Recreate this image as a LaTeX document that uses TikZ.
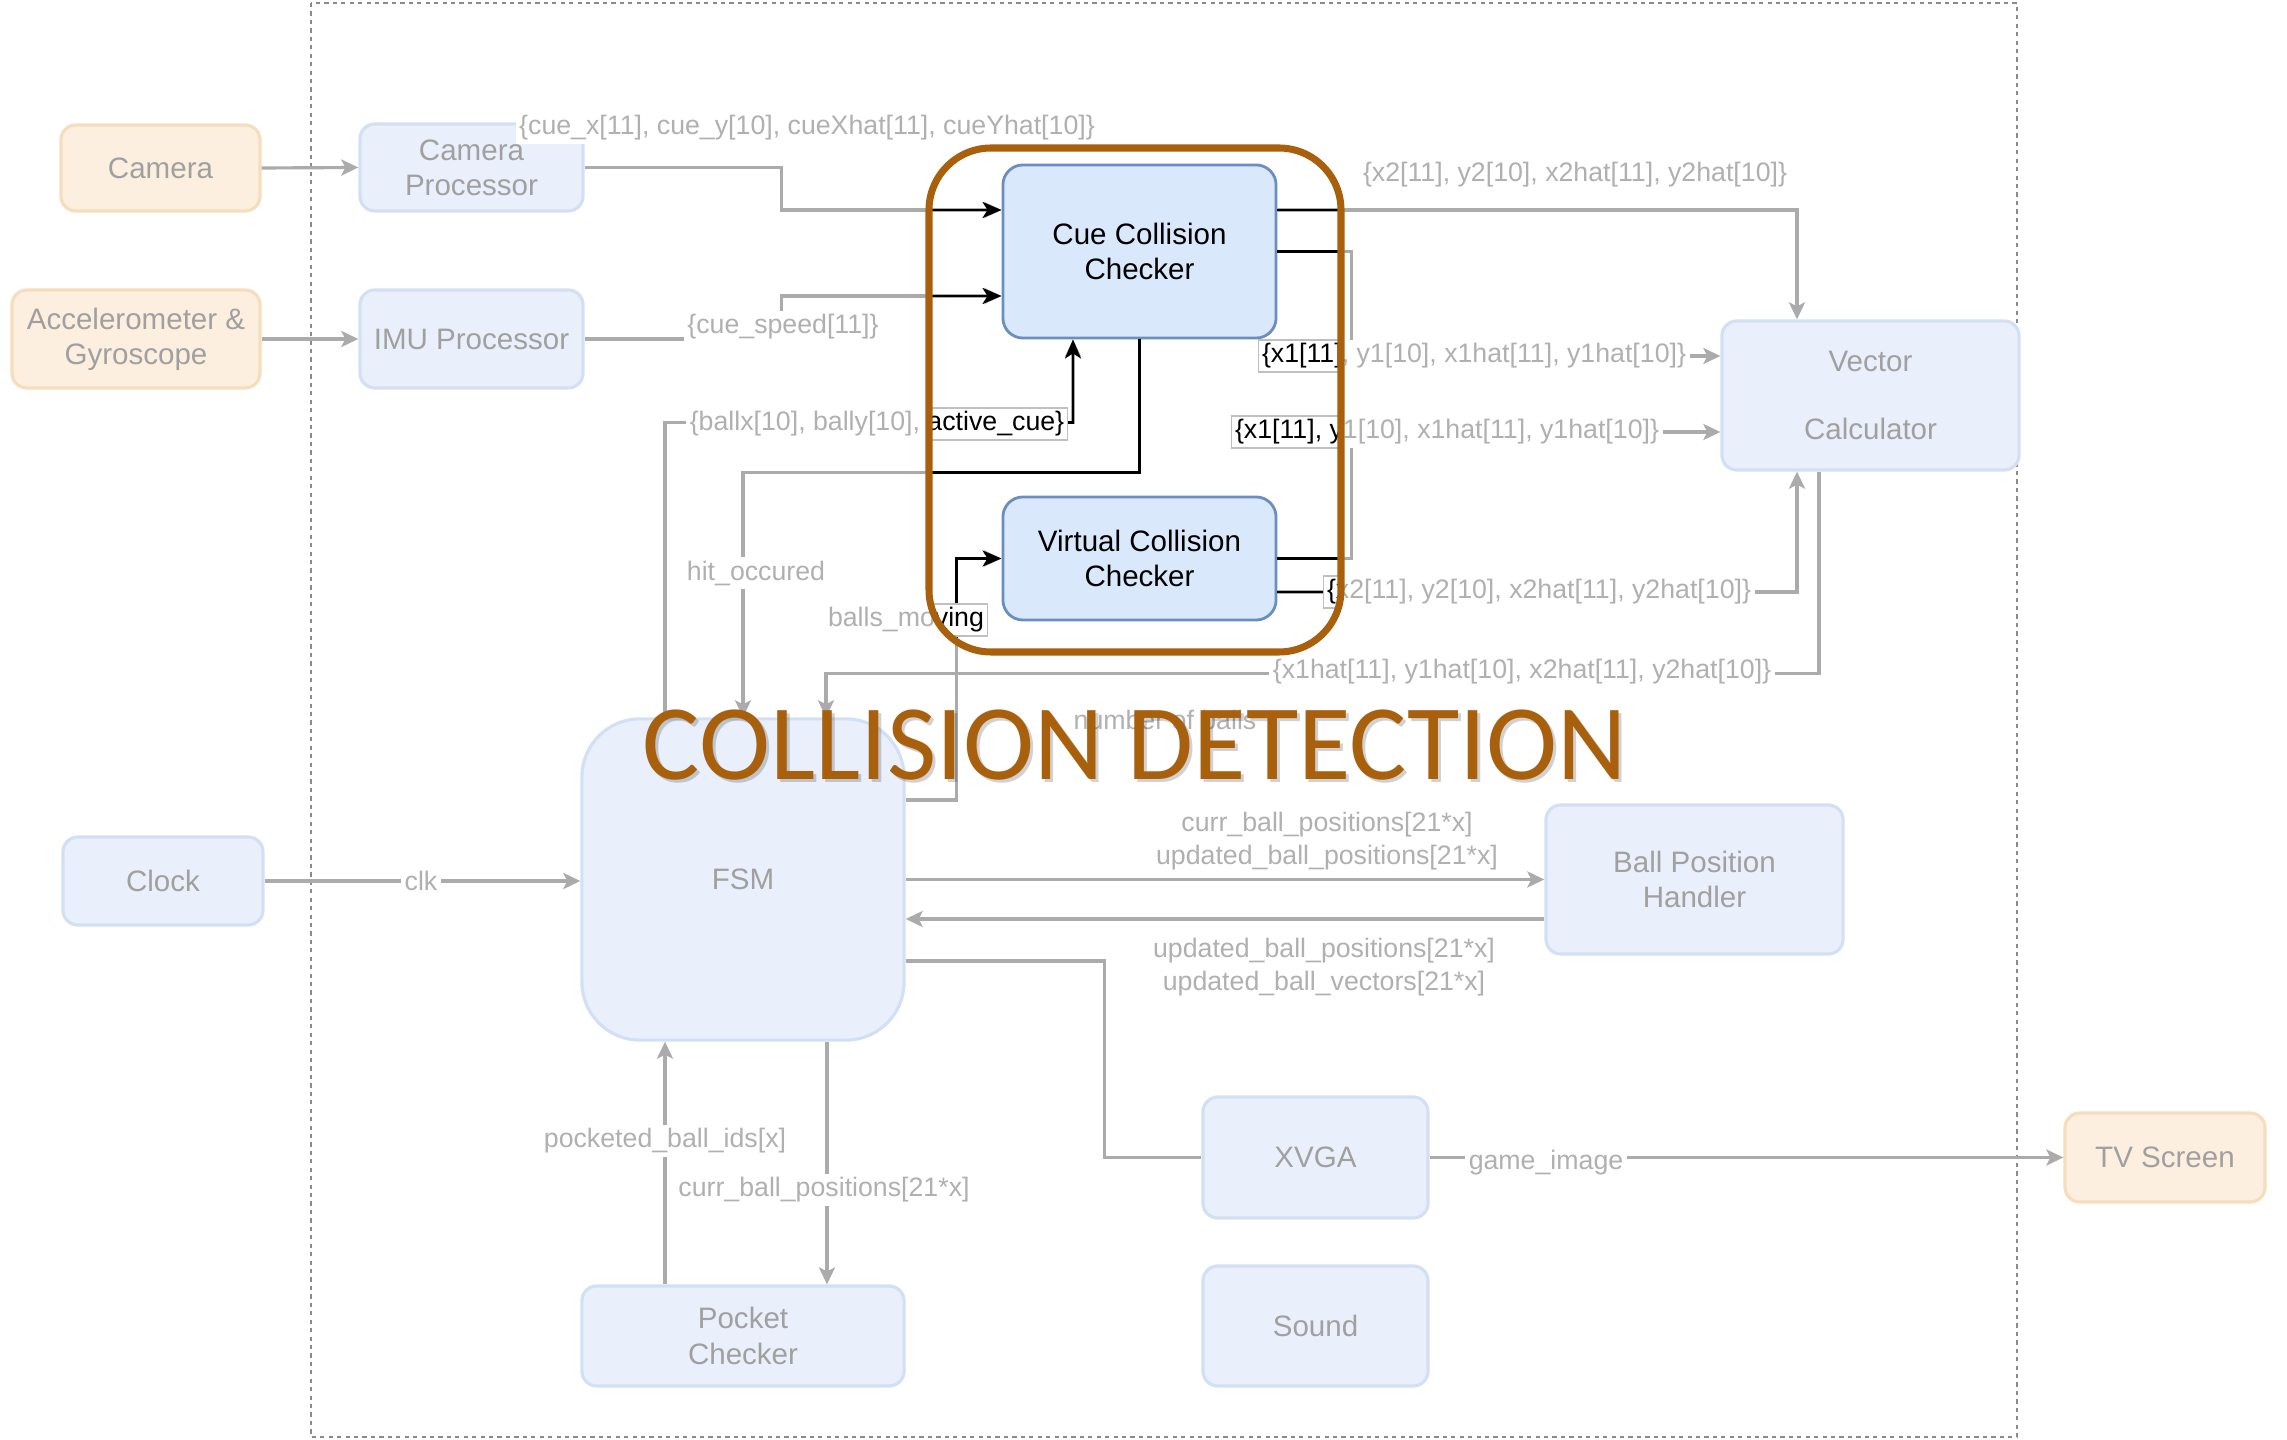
\documentclass[tikz,border=0pt]{standalone}
\usepackage{fontspec}
\setmainfont{Liberation Sans}
\newfontfamily\titlefont{Carlito}
\usetikzlibrary{arrows.meta,calc}

\definecolor{fadeline}{HTML}{ABABAB}
\definecolor{fadelabel}{HTML}{B0B0B0}
\definecolor{fadetext}{HTML}{A0A0A0}
\definecolor{fadebluefill}{HTML}{E9F0FC}
\definecolor{fadeblueedge}{HTML}{D3E0F4}
\definecolor{fadeorangefill}{HTML}{FDEFE0}
\definecolor{fadeorangeedge}{HTML}{F6DDBD}
\definecolor{bluefill}{HTML}{DAE8FC}
\definecolor{blueedge}{HTML}{6C8EBF}
\definecolor{rust}{HTML}{A8600C}
\definecolor{framegray}{HTML}{8A8A8A}

% Connectors that run through the collision-detection block.
% #1 = f (faded) or h (highlighted) selects the style family.
\newcommand\collisionlinks[1]{%
  \draw[#1arrow] (camproc.east) -- ++(197,0) |- ($(ccc.west)+(0,-41.5)$);
  \draw[#1arrow] (imu.east) -- ++(197,0) |- ($(ccc.west)+(0,44.5)$);
  \draw[#1arrow] ($(ccc.east)+(0,-41.5)$) -| ($(vc.north)+(-73.5,0)$);
  \draw[#1arrow] (ccc.east) -- ++(74,0) |- ($(vc.west)+(0,-39.5)$);
  \draw[#1arrow] (vcc.east) -- ++(74,0) |- ($(vc.west)+(0,36.5)$);
  \draw[#1arrow] ($(vcc.east)+(0,33.5)$) -| ($(vc.south)+(-73.5,0)$);
  \draw[#1arrow] ($(fsm.north)+(-78,0)$) -- ++(0,-295) -| ($(ccc.south)+(-66.5,0)$);
  \draw[#1arrow] (ccc.south) -- ++(0,133) -| (fsm.north);
  \draw[#1arrow] ($(fsm.east)+(0,-79.5)$) -- ++(51,0) |- (vcc.west);
  \node[#1label] (lcue) at (807,128) {\{cue\_x[11], cue\_y[10], cueXhat[11], cueYhat[10]\}};
  \node[#1label] (lspeed) at (783,327) {\{cue\_speed[11]\}};
  \node[#1label] (lxtwo) at (1575,175) {\{x2[11], y2[10], x2hat[11], y2hat[10]\}};
  \node[#1label] (lxone) at (1474,356) {\{x1[11], y1[10], x1hat[11], y1hat[10]\}};
  \node[#1label] (lxonev) at (1447,432) {\{x1[11], y1[10], x1hat[11], y1hat[10]\}};
  \node[#1label] (lxtwov) at (1539,592) {\{x2[11], y2[10], x2hat[11], y2hat[10]\}};
  \node[#1label] (lball) at (877,424) {\{ballx[10], bally[10], active\_cue\}};
  \node[#1label] (lhit) at (756,573) {hit\_occured};
  \node[#1label] (lmove) at (906,620) {balls\_moving};
}

\begin{document}
\begin{tikzpicture}[x=0.01cm, y=-0.01cm,
  fbox/.style={draw=fadeblueedge, fill=fadebluefill, line width=0.9pt,
    rounded corners=0.15cm, text=fadetext, align=center, inner sep=0pt,
    font=\fontsize{8.4}{10}\selectfont},
  obox/.style={fbox, draw=fadeorangeedge, fill=fadeorangefill},
  hbox/.style={draw=blueedge, fill=bluefill, line width=0.8pt,
    rounded corners=0.2cm, text=black, align=center, inner sep=0pt,
    font=\fontsize{8.4}{10}\selectfont},
  fline/.style={draw=fadeline, line width=0.9pt},
  farrow/.style={fline, -{Stealth[length=0.17cm, width=0.16cm, inset=0.04cm]}},
  hline/.style={draw=black, line width=0.75pt},
  harrow/.style={hline, -{Stealth[length=0.19cm, width=0.16cm, inset=0.05cm]}},
  flabel/.style={fill=white, text=fadelabel, inner sep=1pt, align=center,
    font=\fontsize{7.6}{9.6}\selectfont},
  hlabel/.style={flabel, text=black, draw=black!25, line width=0.4pt},
]
\useasboundingbox (0,0) rectangle (2287,1440);

% system boundary
\draw[framegray, line width=0.6pt, dash pattern=on 1.2pt off 1.2pt]
  (311,3) rectangle (2017,1437);

% blocks
\node[obox, minimum width=1.99cm, minimum height=0.86cm] (camera) at (160.5,168) {Camera};
\node[obox, minimum width=2.48cm, minimum height=0.98cm] (accel) at (136,339) {Accelerometer \&\\Gyroscope};
\node[fbox, minimum width=2.23cm, minimum height=0.87cm] (camproc) at (471.5,167.5) {Camera\\Processor};
\node[fbox, minimum width=2.23cm, minimum height=0.98cm] (imu) at (471.5,339) {IMU Processor};
\node[hbox, minimum width=2.73cm, minimum height=1.73cm] (ccc) at (1139.5,251.5) {Cue Collision\\Checker};
\node[hbox, minimum width=2.73cm, minimum height=1.23cm] (vcc) at (1139.5,558.5) {Virtual Collision\\Checker};
\node[fbox, minimum width=2.97cm, minimum height=1.49cm] (vc) at (1870.5,395.5) {Vector\\[0.33cm]Calculator};
\node[fbox, rounded corners=0.58cm, minimum width=3.22cm, minimum height=3.21cm] (fsm) at (743,879.5) {FSM};
\node[fbox, minimum width=2.97cm, minimum height=1.49cm] (bph) at (1694.5,879.5) {Ball Position\\Handler};
\node[fbox, minimum width=2.0cm, minimum height=0.88cm] (clock) at (163,881) {Clock};
\node[fbox, minimum width=2.25cm, minimum height=1.21cm] (xvga) at (1315.5,1157.5) {XVGA};
\node[fbox, minimum width=2.25cm, minimum height=1.2cm] (sound) at (1315.5,1326) {Sound};
\node[fbox, minimum width=3.22cm, minimum height=1.0cm] (pocket) at (743,1336) {Pocket\\Checker};
\node[obox, minimum width=2.0cm, minimum height=0.89cm] (tv) at (2165,1157.5) {TV Screen};

% faded connectors
\draw[farrow] (camera.east) -- (camproc.west);
\draw[farrow] (accel.east) -- (imu.west);
\draw[farrow] ($(vc.south)+(-51.5,0)$) -- ++(0,202) -| ($(fsm.north)+(83,0)$);
\node[flabel] (lhat) at (1522,672) {\{x1hat[11], y1hat[10], x2hat[11], y2hat[10]\}};
\draw[farrow] (clock.east) -- (clock.east -| fsm.west);
\node[flabel] (lclk) at (421,881) {clk};
\draw[farrow] (fsm.east) -- (bph.west);
\node[flabel] (lcurr) at (1327,841) {curr\_ball\_positions[21*x]\\updated\_ball\_positions[21*x]};
\draw[farrow] ($(bph.west)+(0,39.5)$) -- ($(fsm.east)+(0,39.5)$);
\node[flabel] (lupd) at (1324,967) {updated\_ball\_positions[21*x]\\updated\_ball\_vectors[21*x]};
\draw[fline] ($(fsm.east)+(0,81.5)$) -- ++(199,0) |- (xvga.west);
\draw[farrow] (xvga.east) -- (tv.west);
\node[flabel] (limg) at (1546,1163) {game\_image};
\draw[farrow] ($(pocket.north)+(-78,0)$) -- ($(fsm.south)+(-78,0)$);
\node[flabel] (lpock) at (665,1141) {pocketed\_ball\_ids[x]};
\draw[farrow] ($(fsm.south)+(84,0)$) -- ($(pocket.north)+(84,0)$);
\node[flabel] (lcurrp) at (824,1190) {curr\_ball\_positions[21*x]};
\node[text=fadelabel, font=\fontsize{7.6}{9.6}\selectfont] (lnum) at (1165,720) {number of balls};

\collisionlinks{f}

% highlighted collision-detection block
\begin{scope}
  \clip[rounded corners=0.62cm] (929,148) rectangle (1341,652);
  \collisionlinks{h}
\end{scope}
\draw[rust, line width=2pt, rounded corners=0.62cm] (929,148) rectangle (1341,652);

% title with soft shadow
\node[font=\titlefont\fontsize{30.5}{36}\selectfont, text=black, text opacity=0.18, anchor=base]
  (titleshadow) at (1138,783) {COLLISION DETECTION};
\node[font=\titlefont\fontsize{30.5}{36}\selectfont, text=rust, anchor=base]
  (title) at (1135,780) {COLLISION DETECTION};
\end{tikzpicture}
\end{document}
